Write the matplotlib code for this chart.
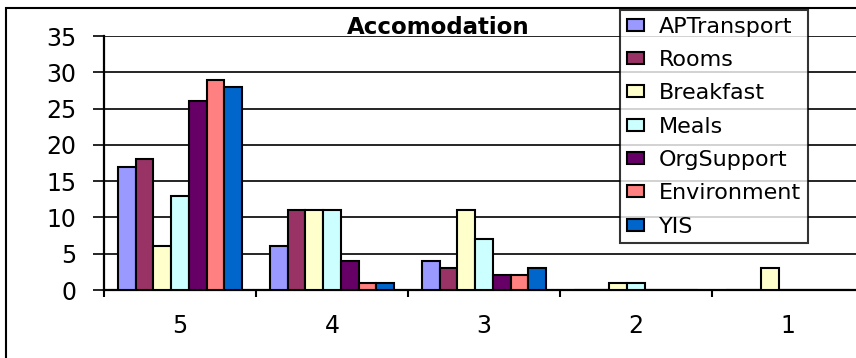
import numpy as np
import matplotlib.pyplot as plt
from matplotlib.patches import Rectangle

plt.rcParams['font.family'] = ['DejaVu Sans']

ratings = ['5', '4', '3', '2', '1']
series = ['APTransport', 'Rooms', 'Breakfast', 'Meals', 'OrgSupport', 'Environment', 'YIS']
colors = ['#9999FF', '#993366', '#FFFFCC', '#CCFFFF', '#660066', '#FF8080', '#0066CC']

ap_transport = [17, 6, 4, 0, 0]
rooms = [18, 11, 3, 0, 0]
breakfast = [6, 11, 11, 1, 3]
meals = [13, 11, 7, 1, 0]
org_support = [26, 4, 2, 0, 0]
environment = [29, 1, 2, 0, 0]
yis = [28, 1, 3, 0, 0]

values = [ap_transport, rooms, breakfast, meals, org_support, environment, yis]

fig = plt.figure(figsize=(8.56, 3.58), dpi=100)
ax = fig.add_axes([104 / 856, 68 / 358, 760 / 856, 254 / 358])

x = np.arange(len(ratings))
w = 0.1165
for i, (name, vals, c) in enumerate(zip(series, values, colors)):
    ax.bar(x + (i - 3) * w, vals, w, color=c, edgecolor='black', linewidth=1.5,
           label=name, zorder=3)

ax.set_xlim(-0.5, 4.5)
ax.set_ylim(0, 35)
ax.set_yticks(range(0, 36, 5))
ax.yaxis.grid(True, color='black', linewidth=1.2, zorder=0)
ax.tick_params(axis='y', length=8, width=1.2, pad=12, labelsize=17)

ax.set_xticks(x)
ax.set_xticklabels(ratings)
ax.set_xticks(np.arange(-0.5, 5, 1), minor=True)
ax.tick_params(axis='x', which='major', length=0, pad=17, labelsize=17)
ax.tick_params(axis='x', which='minor', length=5, width=1.5)

for s in ['top', 'right']:
    ax.spines[s].set_visible(False)
ax.spines['left'].set_linewidth(1.6)
ax.spines['bottom'].set_linewidth(1.6)

ax.text(0.44, 1 + 2 / 254, 'Accomodation', transform=ax.transAxes, ha='center',
        va='baseline', fontsize=16.5, fontweight='bold', zorder=5)

leg = ax.legend(loc='upper left', bbox_to_anchor=((620 - 104) / 760, (290 - 10) / 254),
                borderaxespad=0, frameon=True, fancybox=False, fontsize=16,
                handlelength=0.8, handleheight=0.45, handletextpad=0.65,
                labelspacing=0.6, borderpad=0.3)
leg.get_frame().set_edgecolor('black')
leg.get_frame().set_linewidth(1.5)
leg.set_zorder(10)

# outer chart border
fig.patches.append(Rectangle((6 / 856, -0.2), 1.2, 1.2 - 8 / 358, transform=fig.transFigure,
                             fill=False, edgecolor='black', linewidth=1.5))

fig.savefig('out.png', dpi=100)
